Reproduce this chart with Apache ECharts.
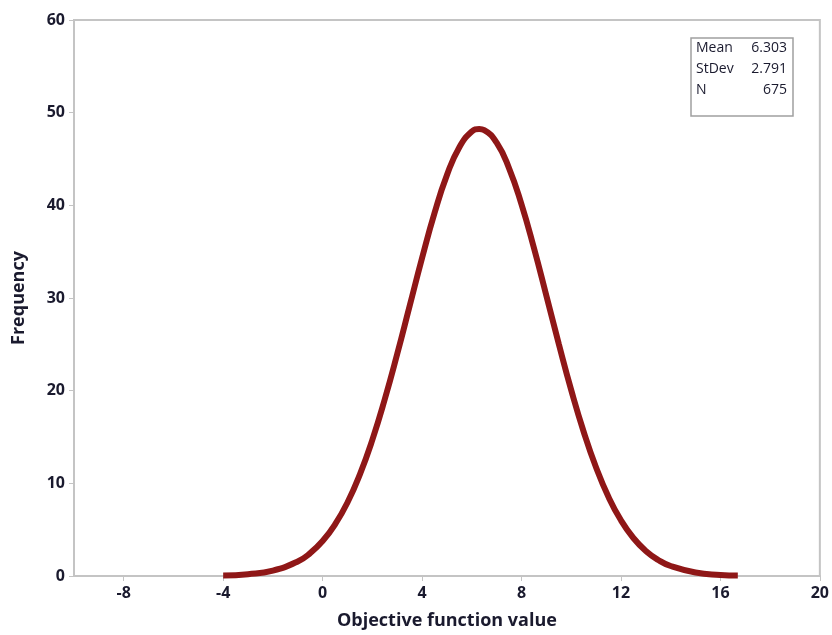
<!DOCTYPE html>
<html><head><meta charset="utf-8">
<script src="https://cdn.jsdelivr.net/npm/echarts@6/dist/echarts.min.js"></script>
<style>html,body{margin:0;padding:0;background:#fff}#c{width:832px;height:635px}</style>
</head><body><div id="c"></div>
<script>
const xValues = [-4, -3, -2, -1, -0.5, 0, 0.5, 1, 1.5, 2, 2.5, 3, 3.5, 4, 4.5, 5, 5.5, 6, 6.3, 6.5, 7, 7.5, 8, 8.5, 9, 9.5, 10, 10.5, 11, 11.5, 12, 12.5, 13, 13.5, 14, 15, 16, 16.7];
const freqValues = [0.05, 0.19, 0.58, 1.57, 2.47, 3.77, 5.56, 7.93, 10.97, 14.69, 19.07, 23.95, 29.13, 34.32, 39.16, 43.26, 46.28, 47.96, 48.24, 48.12, 46.76, 44.0, 40.1, 35.39, 30.25, 25.04, 20.06, 15.57, 11.71, 8.52, 6.01, 4.1, 2.71, 1.73, 1.08, 0.38, 0.12, 0.05];
const xTicks = [-8, -4, 0, 4, 8, 12, 16, 20];
const yTicks = [0, 10, 20, 30, 40, 50, 60];
const statLabels = ['Mean', 'StDev', 'N'];
const statValues = ['6.303', '2.791', '675'];

const font = '"Open Sans", "Noto Sans", sans-serif';
const textColor = '#1a1a2e';
const chart = echarts.init(document.getElementById('c'));
const statTexts = [];
statLabels.forEach((l, i) => {
  statTexts.push({type: 'text', left: 696, top: 41 + i * 21, style: {text: l, font: '14px ' + font, fill: textColor}});
  statTexts.push({type: 'text', right: 832 - 787, top: 41 + i * 21, style: {text: statValues[i], font: '14px ' + font, fill: textColor, textAlign: 'right'}});
});
chart.setOption({
  animation: false,
  grid: {left: 74, right: 11, top: 20, bottom: 59, show: true, borderColor: '#c4c4c4', borderWidth: 2},
  xAxis: {
    type: 'value', min: -10, max: 20,
    axisLine: {show: true, onZero: false, lineStyle: {color: '#c4c4c4', width: 2}},
    axisTick: {show: true, customValues: xTicks, length: 5, lineStyle: {color: '#c4c4c4'}},
    axisLabel: {customValues: xTicks, color: textColor, fontFamily: font, fontSize: 16, fontWeight: 'bold', margin: 9},
    splitLine: {show: false},
    name: 'Objective function value', nameLocation: 'middle', nameGap: 36,
    nameTextStyle: {color: textColor, fontFamily: font, fontSize: 18, fontWeight: 'bold'}
  },
  yAxis: {
    type: 'value', min: 0, max: 60, interval: 10,
    axisLine: {show: true, onZero: false, lineStyle: {color: '#c4c4c4', width: 2}},
    axisTick: {show: true, length: 5, lineStyle: {color: '#c4c4c4'}},
    axisLabel: {color: textColor, fontFamily: font, fontSize: 16, fontWeight: 'bold', margin: 9},
    splitLine: {show: false},
    name: 'Frequency', nameLocation: 'middle', nameGap: 46,
    nameTextStyle: {color: textColor, fontFamily: font, fontSize: 18, fontWeight: 'bold'}
  },
  series: [{
    type: 'line', smooth: true, showSymbol: false,
    data: xValues.map((x, i) => [x, freqValues[i]]),
    lineStyle: {color: '#8f1717', width: 6}
  }],
  graphic: [
    {type: 'rect', shape: {x: 691, y: 38, width: 102, height: 78}, style: {fill: '#fff', stroke: '#a0a0a0', lineWidth: 1.5}},
    ...statTexts
  ]
});
</script></body></html>
